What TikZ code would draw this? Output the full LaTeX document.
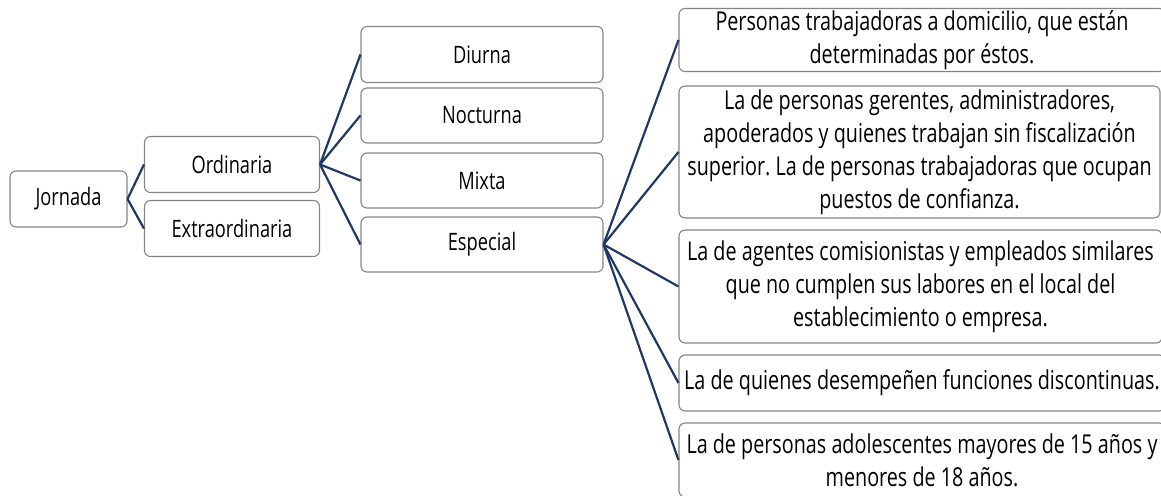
\documentclass[tikz,border=0pt]{standalone}
\usepackage{fontspec}
\setmainfont{Open Sans}[FakeStretch=0.76]
\frenchspacing
\definecolor{navy}{HTML}{1F3864}
\definecolor{boxgray}{HTML}{858585}
\begin{document}
\begin{tikzpicture}[x=1pt,y=-1pt,
  bx/.style={draw=boxgray, line width=1.1pt, rounded corners=6pt, fill=white,
    inner sep=0pt, align=center, font=\fontsize{24}{34}\selectfont, text=black},
  rb/.style={bx, font=\fontsize{26}{33}\selectfont},
  cn/.style={draw=navy, line width=2.2pt}]
\useasboundingbox (0,0) rectangle (1161,495);
\node[bx, minimum width=117pt, minimum height=56pt] (J) at (68.5,199) {Jornada};
\node[bx, minimum width=175pt, minimum height=56pt] (O) at (232,164.5) {Ordinaria};
\node[bx, minimum width=175pt, minimum height=56pt] (E) at (232,228.5) {Extraordinaria};
\node[bx, minimum width=242pt, minimum height=56pt] (D) at (482,54.5) {Diurna};
\node[bx, minimum width=242pt, minimum height=55pt] (N) at (482,115.5) {Nocturna};
\node[bx, minimum width=242pt, minimum height=55pt] (M) at (482,180.5) {Mixta};
\node[bx, minimum width=242pt, minimum height=55pt] (S) at (482,244.5) {Especial};
\node[rb, minimum width=486pt, minimum height=63pt] (R1) at (922,40) {Personas trabajadoras a domicilio, que están\\determinadas por éstos.};
\node[rb, minimum width=481pt, minimum height=132pt] (R2) at (919.5,152) {La de personas gerentes, administradores,\\apoderados y quienes trabajan sin fiscalización\\superior. La de personas trabajadoras que ocupan\\puestos de confianza.};
\node[rb, minimum width=483pt, minimum height=113pt] (R3) at (920.5,286.5) {La de agentes comisionistas y empleados similares\\que no cumplen sus labores en el local del\\establecimiento o empresa.};
\node[rb, minimum width=486pt, minimum height=56pt] (R4) at (922,383) {La de quienes desempeñen funciones discontinuas.};
\node[rb, minimum width=486pt, minimum height=74pt] (R5) at (922,460) {La de personas adolescentes mayores de 15 años y\\menores de 18 años.};
\foreach \t in {O,E} \draw[cn] (J.east) -- (\t.west);
\foreach \t in {D,N,M,S} \draw[cn] (O.east) -- (\t.west);
\foreach \t in {R1,R2,R3,R4,R5} \draw[cn] (S.east) -- (\t.west);
\end{tikzpicture}
\end{document}
